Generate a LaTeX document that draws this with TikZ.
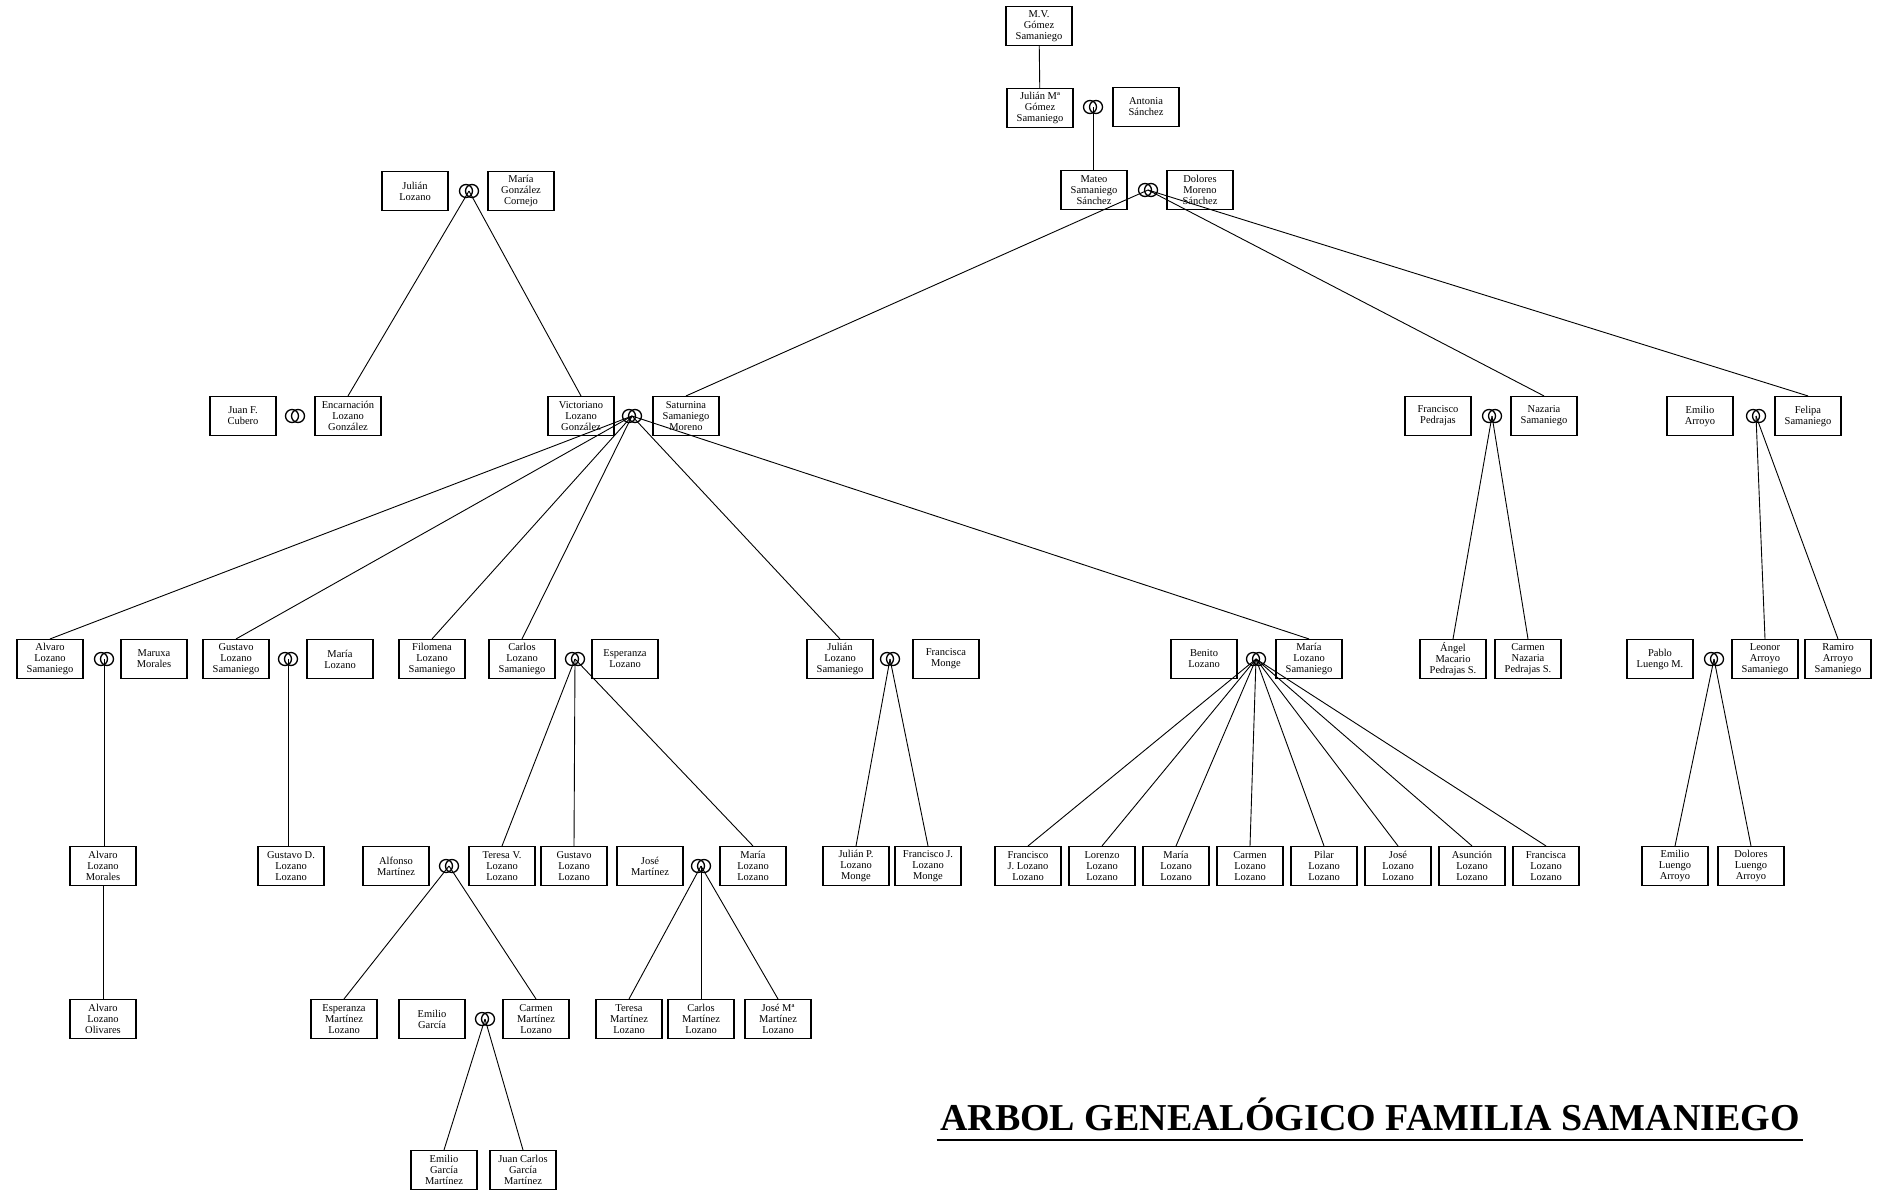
\documentclass[tikz,border=0pt]{standalone}
\usepackage{fontspec}
\setmainfont{Liberation Serif}
\tikzset{
  person/.style={draw, line width=1.1pt, minimum width=66pt, minimum height=39pt,
    inner sep=1pt, align=center, font=\fontsize{10.5}{11}\selectfont},
  link/.style={line width=0.9pt},
}
\begin{document}
\begin{tikzpicture}[x=1pt,y=-1pt]
\useasboundingbox (0,0) rectangle (1881,1192);
% generacion 1
\node[person] (mvgomez) at (1039,26) {M.V.\\Gómez\\Samaniego};
\node[person] (julianmg) at (1040,108) {Julián Mª\\Gómez\\Samaniego};
\coordinate (rjulianmg) at (1093,107);
\node[person] (antonia) at (1146,107) {Antonia\\Sánchez};
\node[person] (mateo) at (1094,190) {Mateo\\Samaniego\\Sánchez};
\coordinate (rmateo) at (1148,190);
\node[person] (dolores) at (1200,190) {Dolores\\Moreno\\Sánchez};
\node[person] (julianl) at (415,191) {Julián\\Lozano};
\coordinate (rjulianl) at (469,191);
\node[person] (mariag) at (521,191) {María\\González\\Cornejo};
% generacion 2
\node[person] (juanf) at (243,416) {Juan F.\\Cubero};
\coordinate (rjuanf) at (295,416);
\node[person] (encarnacion) at (348,416) {Encarnación\\Lozano\\González};
\node[person] (victoriano) at (581,416) {Victoriano\\Lozano\\González};
\coordinate (rvictoriano) at (632,416);
\node[person] (saturnina) at (686,416) {Saturnina\\Samaniego\\Moreno};
\node[person] (franciscop) at (1438,416) {Francisco\\Pedrajas};
\coordinate (rfranciscop) at (1492,416);
\node[person] (nazaria) at (1544,416) {Nazaria\\Samaniego};
\node[person] (emilioa) at (1700,416) {Emilio\\Arroyo};
\coordinate (remilioa) at (1756,416);
\node[person] (felipa) at (1808,416) {Felipa\\Samaniego};
% generacion 3
\node[person] (alvarols) at (50,659) {Alvaro\\Lozano\\Samaniego};
\coordinate (ralvaro) at (104,659);
\node[person] (maruxa) at (154,659) {Maruxa\\Morales};
\node[person] (gustavols) at (236,659) {Gustavo\\Lozano\\Samaniego};
\coordinate (rgustavo) at (288,659);
\node[person] (marial) at (340,659) {María\\Lozano};
\node[person] (filomena) at (432,659) {Filomena\\Lozano\\Samaniego};
\node[person] (carlosls) at (522,659) {Carlos\\Lozano\\Samaniego};
\coordinate (rcarlos) at (575,659);
\node[person] (esperanzal) at (625,659) {Esperanza\\Lozano};
\node[person] (julianls) at (840,659) {Julián\\Lozano\\Samaniego};
\coordinate (rjulianls) at (890,659);
\node[person] (franciscam) at (946,659) {Francisca\\Monge};
\node[person] (benito) at (1204,659) {Benito\\Lozano};
\coordinate (rbenito) at (1256,659);
\node[person] (marials) at (1309,659) {María\\Lozano\\Samaniego};
\node[person] (angel) at (1453,659) {Ángel\\Macario\\Pedrajas S.};
\node[person] (carmenps) at (1528,659) {Carmen\\Nazaria\\Pedrajas S.};
\node[person] (pablo) at (1660,659) {Pablo\\Luengo M.};
\coordinate (rpablo) at (1714,659);
\node[person] (leonor) at (1765,659) {Leonor\\Arroyo\\Samaniego};
\node[person] (ramiro) at (1838,659) {Ramiro\\Arroyo\\Samaniego};
% generacion 4
\node[person] (alvarolm) at (103,866) {Alvaro\\Lozano\\Morales};
\node[person] (gustavod) at (291,866) {Gustavo D.\\Lozano\\Lozano};
\node[person] (alfonso) at (396,866) {Alfonso\\Martínez};
\coordinate (ralfonso) at (449,866);
\node[person] (teresav) at (502,866) {Teresa V.\\Lozano\\Lozano};
\node[person] (gustavoll) at (574,866) {Gustavo\\Lozano\\Lozano};
\node[person] (josem) at (650,866) {José\\Martínez};
\coordinate (rjose) at (701,866);
\node[person] (mariall) at (753,866) {María\\Lozano\\Lozano};
\node[person] (julianp) at (856,866) {Julián P.\\Lozano\\Monge};
\node[person] (franciscojm) at (928,866) {Francisco J.\\Lozano\\Monge};
\foreach \n/\x/\t in {hijo1/1028/{Francisco\\J. Lozano\\Lozano},
    hijo2/1102/{Lorenzo\\Lozano\\Lozano}, hijo3/1176/{María\\Lozano\\Lozano},
    hijo4/1250/{Carmen\\Lozano\\Lozano}, hijo5/1324/{Pilar\\Lozano\\Lozano},
    hijo6/1398/{José\\Lozano\\Lozano}, hijo7/1472/{Asunción\\Lozano\\Lozano},
    hijo8/1546/{Francisca\\Lozano\\Lozano}}
  \node[person] (\n) at (\x,866) {\t};
\node[person] (emiliol) at (1675,866) {Emilio\\Luengo\\Arroyo};
\node[person] (doloresl) at (1751,866) {Dolores\\Luengo\\Arroyo};
% generacion 5
\node[person] (alvarolo) at (103,1019) {Alvaro\\Lozano\\Olivares};
\node[person] (esperanzaml) at (344,1019) {Esperanza\\Martínez\\Lozano};
\node[person] (emiliog) at (432,1019) {Emilio\\García};
\coordinate (remiliog) at (485,1019);
\node[person] (carmenml) at (536,1019) {Carmen\\Martínez\\Lozano};
\node[person] (teresam) at (629,1019) {Teresa\\Martínez\\Lozano};
\node[person] (carlosm) at (701,1019) {Carlos\\Martínez\\Lozano};
\node[person] (josemm) at (778,1019) {José Mª\\Martínez\\Lozano};
% generacion 6
\node[person] (emiliogm) at (444,1170) {Emilio\\García\\Martínez};
\node[person] (juancarlos) at (523,1170) {Juan Carlos\\García\\Martínez};
% lineas
\draw[link] (mvgomez) -- (julianmg);
\draw[link] (rjulianmg) -- (mateo.north -| rjulianmg);
\draw[link] (rmateo) -- (saturnina.north);
\draw[link] (rmateo) -- (nazaria.north);
\draw[link] (rmateo) -- (felipa.north);
\draw[link] (rjulianl) -- (encarnacion.north);
\draw[link] (rjulianl) -- (victoriano.north);
\foreach \c in {alvarols,gustavols,filomena,carlosls,julianls,marials}
  \draw[link] (rvictoriano) -- (\c.north);
\draw[link] (rfranciscop) -- (angel.north);
\draw[link] (rfranciscop) -- (carmenps.north);
\draw[link] (remilioa) -- (leonor.north);
\draw[link] (remilioa) -- (ramiro.north);
\draw[link] (ralvaro) -- (alvarolm.north -| ralvaro);
\draw[link] (alvarolm) -- (alvarolo);
\draw[link] (rgustavo) -- (gustavod.north -| rgustavo);
\foreach \c in {teresav,gustavoll,mariall}
  \draw[link] (rcarlos) -- (\c.north);
\draw[link] (rjulianls) -- (julianp.north);
\draw[link] (rjulianls) -- (franciscojm.north);
\foreach \c in {hijo1,hijo2,hijo3,hijo4,hijo5,hijo6,hijo7,hijo8}
  \draw[link] (rbenito) -- (\c.north);
\draw[link] (rpablo) -- (emiliol.north);
\draw[link] (rpablo) -- (doloresl.north);
\draw[link] (ralfonso) -- (esperanzaml.north);
\draw[link] (ralfonso) -- (carmenml.north);
\foreach \c in {teresam,carlosm,josemm}
  \draw[link] (rjose) -- (\c.north);
\draw[link] (remiliog) -- (emiliogm.north);
\draw[link] (remiliog) -- (juancarlos.north);
% anillos
\foreach \r in {rjulianmg,rmateo,rjulianl,rjuanf,rvictoriano,rfranciscop,remilioa,
    ralvaro,rgustavo,rcarlos,rjulianls,rbenito,rpablo,ralfonso,rjose,remiliog} {
  \draw[line width=1.3pt] ([xshift=-3pt]\r) circle (6.5);
  \draw[line width=1.3pt] ([xshift=3pt]\r) circle (6.5);
}
% titulo
\node[anchor=base, font=\bfseries\fontsize{38}{40}\selectfont] (title) at (1370,1130)
  {ARBOL GENEALÓGICO FAMILIA SAMANIEGO};
\draw[line width=1.6pt] ([yshift=-10pt]title.base west) -- ([yshift=-10pt]title.base east);
\end{tikzpicture}
\end{document}
